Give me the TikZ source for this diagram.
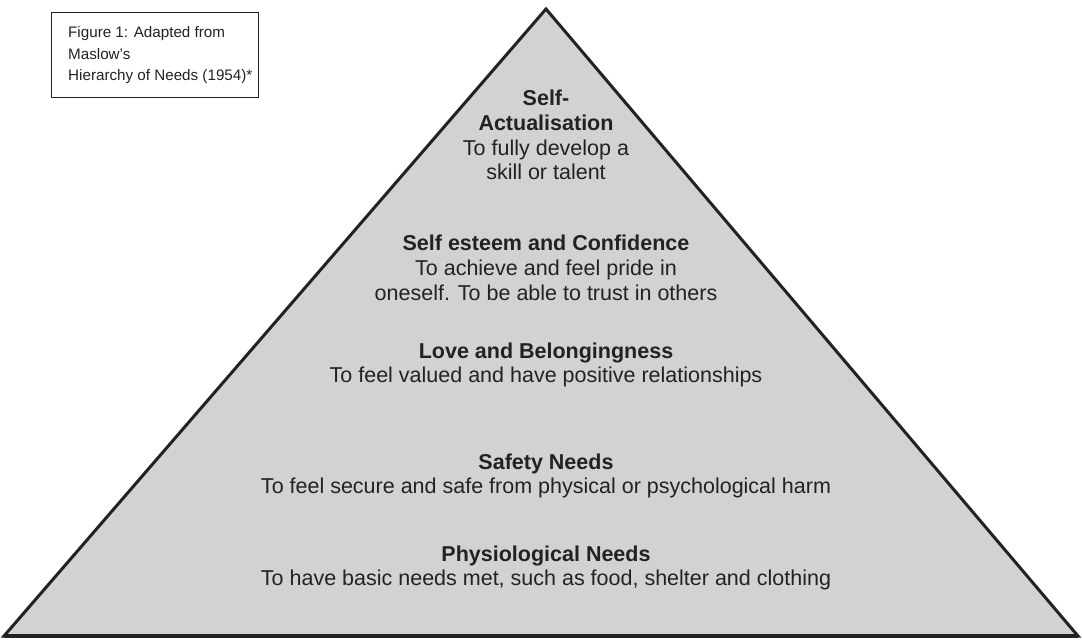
\documentclass[tikz,border=0pt]{standalone}
\usepackage{fontspec}
\setmainfont{Liberation Sans}
\definecolor{pyrfill}{HTML}{D2D2D2}
\definecolor{ink}{HTML}{222222}
\begin{document}
\begin{tikzpicture}[x=1pt,y=-1pt,
  lvl/.style={align=center,text=ink,font=\fontsize{21.5}{24.8}\selectfont,inner sep=0pt},
  captext/.style={align=left,text=ink,font=\fontsize{15.2}{21.8}\selectfont,inner sep=0pt,anchor=north west}]
\useasboundingbox (0,0) rectangle (1082,642);
\coordinate (apex) at (546,9);
\coordinate (bl) at (4,636);
\coordinate (br) at (1078,636);
\filldraw[fill=pyrfill,draw=ink,line width=3pt,line join=miter] (apex) -- (br) -- (bl) -- cycle;
\draw[ink,line width=4pt] (bl) -- (br);
\node[draw=ink,line width=1.4pt,minimum width=207pt,minimum height=85pt,anchor=north west,inner sep=0pt] (box) at (51,12) {};
\node[captext] (caption) at (68,26) {Figure 1: Adapted from\\Maslow's\\Hierarchy of Needs (1954)*};
\node[lvl] (self) at (546,135) {\textbf{Self-}\\\textbf{Actualisation}\\To fully develop a\\skill or talent};
\node[lvl] (esteem) at (546,268) {\textbf{Self esteem and Confidence}\\To achieve and feel pride in\\oneself. To be able to trust in others};
\node[lvl] (love) at (546,365) {\textbf{Love and Belongingness}\\To feel valued and have positive relationships};
\node[lvl] (safety) at (546,476) {\textbf{Safety Needs}\\To feel secure and safe from physical or psychological harm};
\node[lvl] (phys) at (546,568) {\textbf{Physiological Needs}\\To have basic needs met, such as food, shelter and clothing};
\end{tikzpicture}
\end{document}
